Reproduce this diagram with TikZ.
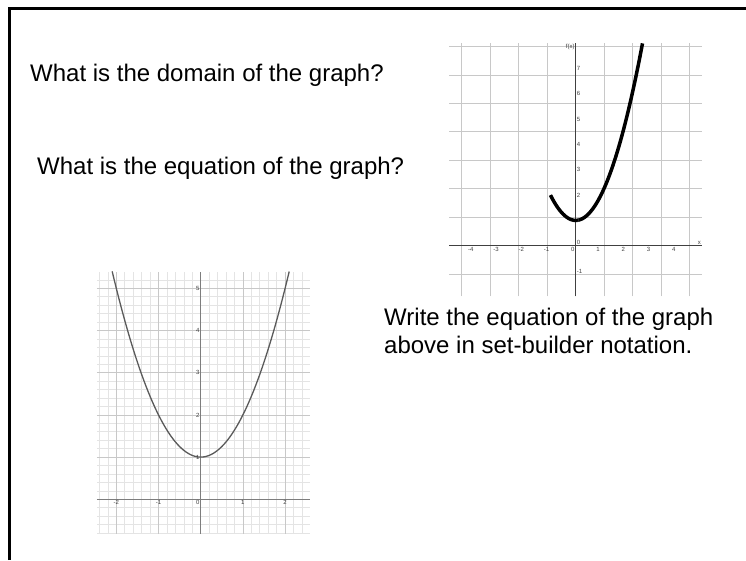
\documentclass[tikz,border=0pt]{standalone}
\usepackage{fontspec}
\setmainfont{Liberation Sans}
\usepackage{tikz}
\definecolor{gridGray}{RGB}{200,200,200}
\definecolor{minorGray}{RGB}{228,228,228}
\definecolor{axisGray}{RGB}{125,125,125}
\definecolor{curveGray}{RGB}{90,90,90}

\begin{document}
\begin{tikzpicture}[x=1pt, y=-1pt,
    question/.style={anchor=base west, inner sep=0pt, font=\fontsize{24}{28}\selectfont},
    ticklabel/.style={inner sep=1pt, font=\fontsize{6}{7}\selectfont, text=black!75}]
  \useasboundingbox (0,0) rectangle (746,560);
  % frame, only top and left side show
  \draw[line width=3pt] (9,560) -- (9,8) -- (746,8);

  % questions
  \node[question] (domainq) at (30,81) {What is the domain of the graph?};
  \node[question] (eqq) at (37,174) {What is the equation of the graph?};
  \node[question] (setq) at (384,325) {Write the equation of the graph};
  \node[question] (setq2) at (384,353) {above in set-builder notation.};

  % graph top right: f(x) = x^2+1, x >= -1
  \begin{scope}[shift={(575.7pt,-245.7pt)}, x=25.25pt, y=25.3pt]
    \draw[gridGray, line width=0.8pt] (-5,-2) grid (5,8);
    \draw[black!75, line width=0.8pt] (-5,0) -- (5,0);
    \draw[black!75, line width=0.8pt] (0,-2) -- (0,8);
    \draw[line width=3.5pt, domain=-1:2.6458, samples=60] plot (\x, {\x*\x+1});
    \foreach \n [count=\i] in {-4,-3,-2,-1,0,1,2,3,4}
      \node[ticklabel, anchor=north east] (rx\i) at (\n,0) {\n};
    \foreach \n in {1,...,7}
      \node[ticklabel, anchor=west] (ry\n) at (0,\n) {\n};
    \node[ticklabel, anchor=south west] (ryz) at (0,0) {0};
    \node[ticklabel, anchor=west] (rym) at (0,-1) {-1};
    \node[ticklabel, anchor=north east] (rfx) at (0,8) {f(x)};
    \node[ticklabel, anchor=south east] (rxx) at (5,0) {x};
  \end{scope}

  % graph bottom left: y = x^2+1
  \begin{scope}[shift={(200.7pt,-499.3pt)}, x=42.2pt, y=42.2pt]
    \draw[minorGray, line width=0.6pt, step=0.2] (-2.46,-0.82) grid (2.59,5.39);
    \draw[gridGray, line width=0.8pt, step=1] (-2.46,-0.82) grid (2.59,5.39);
    \draw[axisGray, line width=1.4pt] (-2.46,0) -- (2.59,0);
    \draw[axisGray, line width=1.4pt] (0,-0.82) -- (0,5.39);
    \draw[curveGray, line width=1.3pt, domain=-2.098:2.098, samples=80] plot (\x, {\x*\x+1});
    \foreach \n [count=\i] in {-2,-1,1,2}
      \node[ticklabel, anchor=north] (lx\i) at (\n,0) {\n};
    \node[ticklabel, anchor=north east] (lxz) at (0,0) {0};
    \foreach \n in {1,...,5}
      \node[ticklabel, anchor=east] (ly\n) at (0,\n) {\n};
  \end{scope}
\end{tikzpicture}
\end{document}
